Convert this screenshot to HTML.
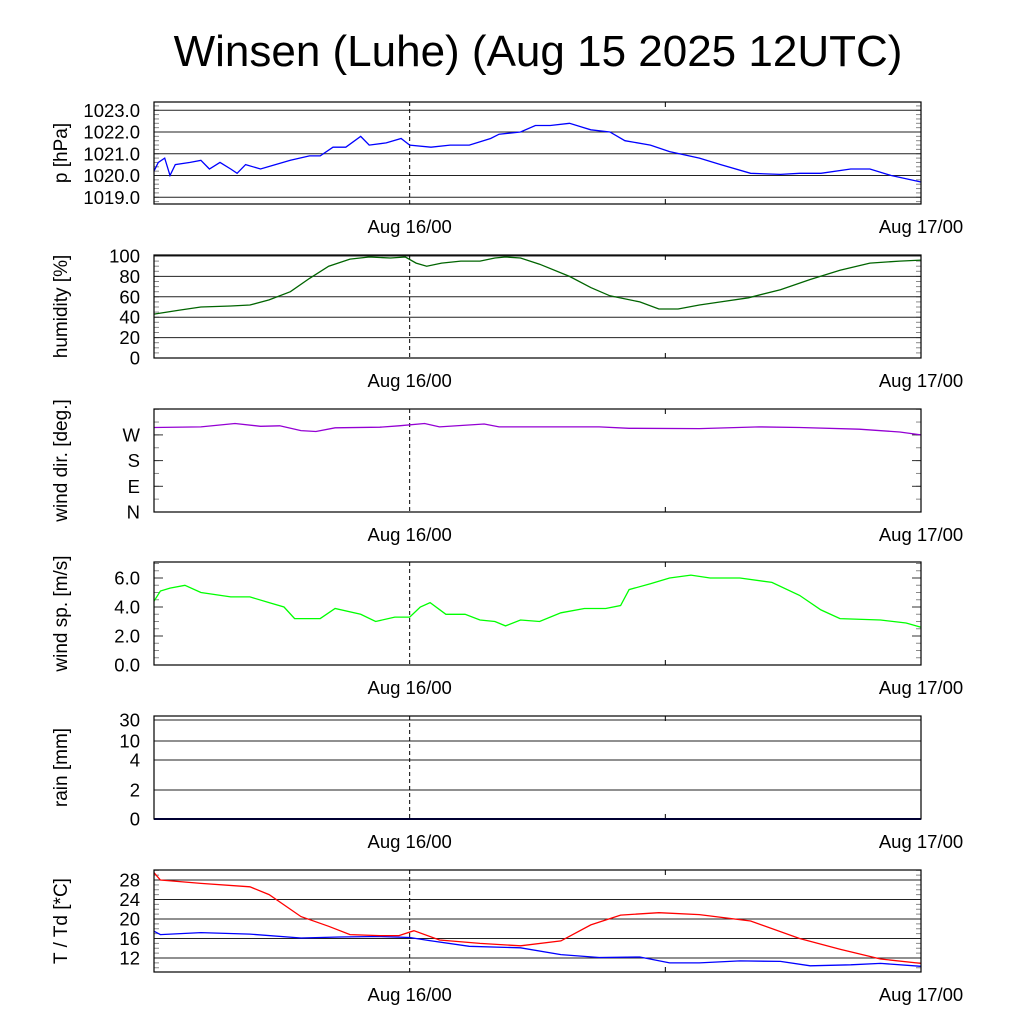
<!DOCTYPE html>
<html><head><meta charset="utf-8"><style>
html,body{margin:0;padding:0;background:#fff;}
svg{display:block;font-family:"Liberation Sans",sans-serif;}
</style></head><body>
<svg id="c" width="1024" height="1024" viewBox="0 0 1024 1024" xmlns="http://www.w3.org/2000/svg">
<text x="538" y="66" font-size="44" text-anchor="middle">Winsen (Luhe) (Aug 15 2025 12UTC)</text>
</svg>
<script>
// hours since Aug 15 12UTC
const pT=[0,0.2,0.5,0.75,1,1.7,2.2,2.6,3.1,3.6,3.9,4.3,5,5.7,6.4,7.3,7.8,8.4,9,9.7,10.1,10.9,11.6,12,13,13.9,14.8,15.8,16.2,17.2,17.9,18.6,19.5,20.5,21.4,22.1,23.3,24.2,25.6,26.6,28,29.4,30.3,31.3,32.7,33.6,34.6,36];
const pV=[1020.2,1020.6,1020.8,1020.0,1020.5,1020.6,1020.7,1020.3,1020.6,1020.3,1020.1,1020.5,1020.3,1020.5,1020.7,1020.9,1020.9,1021.3,1021.3,1021.8,1021.4,1021.5,1021.7,1021.4,1021.3,1021.4,1021.4,1021.7,1021.9,1022.0,1022.3,1022.3,1022.4,1022.1,1022.0,1021.6,1021.4,1021.1,1020.8,1020.5,1020.1,1020.05,1020.1,1020.1,1020.3,1020.3,1020.0,1019.7];
const hT=[0,1.2,2.2,3.6,4.5,5.4,6.4,7.3,8.2,9.2,10.1,11.1,11.8,12.3,12.8,13.5,14.4,15.3,16,16.5,17.2,18.1,19.5,20.5,21.4,22.8,23.7,24.6,25.6,26.6,27.9,29.4,30.8,32.2,33.6,35,36];
const hV=[43,47,50,51,52,57,65,78,90,97,99,98,99,93,90,93,95,95,98,99,98,92,80,69,61,55,48,48,52,55,59,67,77,86,93,95,96];
const dT=[0,2.2,3.8,5,5.9,6.9,7.6,8.5,10.6,11.5,12.7,13.4,15.5,16.2,20.9,22.3,25.6,28.4,30.3,33.1,35,36];
const dV=[296,298,310,300,302,285,282,295,297,302,310,298,308,298,298,293,292,298,296,290,280,270];
const sT=[0,0.3,0.75,1.45,2.2,3.6,4.5,5.4,6.1,6.6,7.8,8.5,9.7,10.4,11.3,12,12.5,12.96,13.7,14.6,15.3,16,16.5,17.2,18.1,19.1,20.2,21.2,21.9,22.3,23.3,24.2,25.2,26.1,27.5,29,30.3,31.3,32.2,34.1,35.3,36];
const sV=[4.4,5.1,5.3,5.5,5.0,4.7,4.7,4.3,4.0,3.2,3.2,3.9,3.5,3.0,3.3,3.3,4.0,4.3,3.5,3.5,3.1,3.0,2.7,3.1,3.0,3.6,3.9,3.9,4.1,5.2,5.6,6.0,6.2,6.0,6.0,5.7,4.8,3.8,3.2,3.1,2.9,2.6];
const rT=[0,36];
const rV=[0,0];
const tT=[0,0.3,2.2,4.5,5.4,6.9,8.2,9.2,10.6,11.5,12.2,13.4,15.3,17.2,19.1,20.5,21.9,23.7,25.6,28,30.3,32.2,34.1,36];
const tV=[29.5,28,27.3,26.6,25,20.5,18.5,16.8,16.6,16.6,17.6,15.7,15.0,14.5,15.5,18.8,20.8,21.3,20.9,19.6,16,13.8,11.8,10.9];
const tdT=[0,0.3,2.2,4.5,6.9,8.7,10.6,12,12.9,14.8,17.2,19.1,20.9,22.8,24.2,25.6,27.5,29.4,30.8,32.7,34.1,36];
const tdV=[17.5,16.8,17.2,16.9,16.1,16.3,16.4,16.2,15.6,14.4,14.1,12.7,12.1,12.2,11.0,11.0,11.4,11.3,10.4,10.6,10.9,10.3];
const pTicks=["1019.0","1020.0","1021.0","1022.0","1023.0"];
const hTicks=["0","20","40","60","80","100"];
const dTicks=["N","E","S","W"];
const sTicks=["0.0","2.0","4.0","6.0"];
const rTicks=["0","2","4","10","30"];
const tTicks=["12","16","20","24","28"];

const svg=document.getElementById('c');
const NS='http://www.w3.org/2000/svg';
const X0=154,X1=921;
const xs=h=>X0+(X1-X0)*h/36;
function el(tag,attrs,parent){const e=document.createElementNS(NS,tag);for(const k in attrs)e.setAttribute(k,attrs[k]);(parent||svg).appendChild(e);return e;}

function panel(name,top,bot,ylab,yfn,ticks,tickVals,grid,minor,series){
  const g=el('g',{});
  
  
  minor.forEach(v=>{const y=yfn(v);if(y<top||y>bot)return;
    el('line',{x1:X0,x2:X0+5,y1:y,y2:y,stroke:'#888','stroke-width':1},g);
    el('line',{x1:X1-5,x2:X1,y1:y,y2:y,stroke:'#888','stroke-width':1},g);});
  tickVals.forEach((v,i)=>{const y=yfn(v);
    if(grid) el('line',{x1:X0,x2:X1,y1:y,y2:y,stroke:'#222','stroke-width':1},g);
    else {el('line',{x1:X0,x2:X0+9,y1:y,y2:y,stroke:'#333'},g);el('line',{x1:X1-9,x2:X1,y1:y,y2:y,stroke:'#333'},g);}
    const t=el('text',{x:X0-14,y:y+6.5,'font-size':18.5,'text-anchor':'end'},g);t.textContent=ticks[i];
    
    
  });
  el('line',{x1:xs(12),x2:xs(12),y1:top,y2:bot,stroke:'#000','stroke-dasharray':'4,3','stroke-width':1},g);
  el('line',{x1:xs(24),x2:xs(24),y1:bot-5,y2:bot,stroke:'#000'},g);
  el('line',{x1:xs(24),x2:xs(24),y1:top,y2:top+5,stroke:'#000'},g);
  series.forEach(s=>{
    const pts=s.t.map((h,i)=>xs(h).toFixed(1)+','+yfn(s.v[i]).toFixed(1)).join(' ');
    const pl=el('polyline',{points:pts,fill:'none',stroke:s.c,'stroke-width':s.w||1.3},g);
    
    
  });
  el('rect',{x:X0,y:top,width:X1-X0,height:bot-top,fill:'none',stroke:'#000','stroke-width':1.2},g);
  const yl=el('text',{transform:`translate(67,${(top+bot)/2}) rotate(-90)`,'font-size':19,'text-anchor':'middle'},g);yl.textContent=ylab;
  
  
  [[12,'Aug 16/00'],[36,'Aug 17/00']].forEach(([h,s])=>{const t=el('text',{x:xs(h),y:bot+29,'font-size':18.5,'text-anchor':'middle'},g);t.textContent=s;
    
    });
}
const range=(a,b,s)=>{const r=[];for(let v=a;v<=b+1e-9;v+=s)r.push(v);return r;};

const pY=v=>175.5-(v-1020)*21.75;
panel('pressure',102,204,'p [hPa]',pY,pTicks,pTicks.map(Number),true,range(1018.8,1023.4,0.2),[{t:pT,v:pV,c:'#0000ff',n:'pressure-line'}]);
const hY=v=>358-v*1.02;
panel('humidity',255,358,'humidity [%]',hY,hTicks,hTicks.map(Number),true,range(0,100,5),[{t:hT,v:hV,c:'#006400',n:'humidity-line'}]);
const dY=v=>512-v*(25.7/90);
panel('wind-direction',409,512,'wind dir. [deg.]',dY,dTicks,[0,90,180,270],false,range(0,360,45),[{t:dT,v:dV,c:'#9400d3',n:'wind-direction-line'}]);
const sY=v=>665-v*14.5;
panel('wind-speed',562,665,'wind sp. [m/s]',sY,sTicks,[0,2,4,6],false,range(0,7,0.5),[{t:sT,v:sV,c:'#00ff00',n:'wind-speed-line'}]);
const rA=[0,2,4,10,30],rP=[819,790,760,741,720];
const rY=v=>{for(let i=0;i<rA.length-1;i++){if(v<=rA[i+1])return rP[i]+(v-rA[i])/(rA[i+1]-rA[i])*(rP[i+1]-rP[i]);}return 720;};
panel('rain',716,819,'rain [mm]',rY,rTicks,rTicks.map(Number),true,[],[{t:rT,v:rV,c:'#000080',n:'rain-line',w:2}]);
const tY=v=>958-(v-12)*4.875;
panel('temperature',870,972,'T / Td [*C]',tY,tTicks,tTicks.map(Number),true,range(10,30,1),[{t:tdT,v:tdV,c:'#0000ff',n:'dewpoint-line'},{t:tT,v:tV,c:'#ff0000',n:'temperature-line'}]);
</script>
</body></html>
